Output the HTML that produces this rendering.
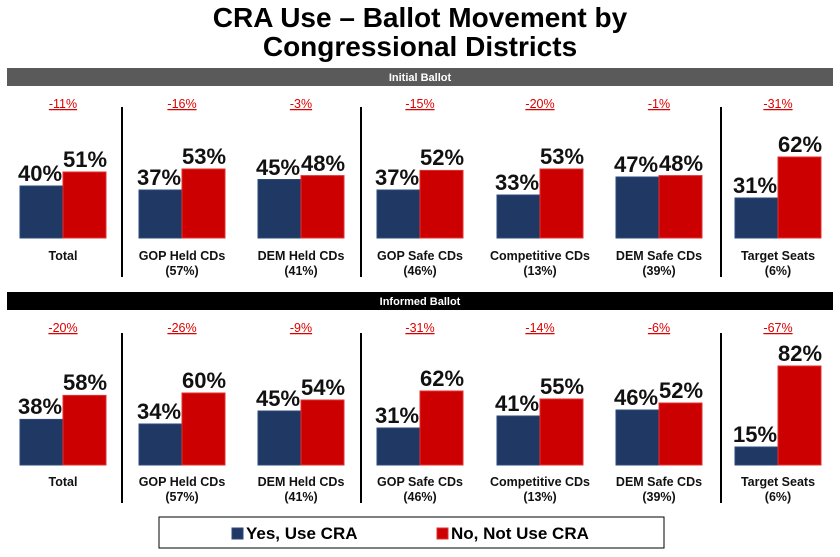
<!DOCTYPE html>
<html><head><meta charset="utf-8"><style>
html,body{margin:0;padding:0;background:#fff;}
svg{display:block;font-family:"Liberation Sans",Arial,sans-serif;}
.t{font-size:28px;font-weight:bold;text-anchor:middle;fill:#000}
.v{font-size:22px;font-weight:bold;text-anchor:middle;fill:#111}
.c{font-size:12.5px;font-weight:bold;text-anchor:middle;fill:#111}
.d{font-size:12.5px;text-anchor:middle;fill:#d00;text-decoration:underline}
.h{font-size:11px;font-weight:bold;text-anchor:middle;fill:#fff}
.b{fill:#1f3864;stroke:#2a4a7a;stroke-width:1}
.r{fill:#cc0000;stroke:#e03030;stroke-width:1}
</style></head><body>
<svg width="840" height="557" viewBox="0 0 840 557">
<text class="t" x="420" y="27">CRA Use – Ballot Movement by</text>
<text class="t" x="420" y="56">Congressional Districts</text>

<rect x="7" y="68" width="826" height="18" fill="#5a5a5a"/>
<text class="h" x="420" y="81">Initial Ballot</text>
<rect x="7" y="292" width="826" height="18" fill="#000"/>
<text class="h" x="420" y="305">Informed Ballot</text>

<g stroke="#000" stroke-width="2">
<line x1="122" y1="107" x2="122" y2="277"/><line x1="361" y1="107" x2="361" y2="277"/><line x1="721" y1="107" x2="721" y2="277"/>
<line x1="122" y1="333" x2="122" y2="503"/><line x1="361" y1="333" x2="361" y2="503"/><line x1="721" y1="333" x2="721" y2="503"/>
</g>

<text class="d" x="63" y="108">-11%</text>
<text class="d" x="182" y="108">-16%</text>
<text class="d" x="301" y="108">-3%</text>
<text class="d" x="420" y="108">-15%</text>
<text class="d" x="540" y="108">-20%</text>
<text class="d" x="659" y="108">-1%</text>
<text class="d" x="778" y="108">-31%</text>

<rect class="b" x="20" y="186" width="43" height="52"/><rect class="r" x="63" y="172" width="43" height="66"/>
<rect class="b" x="139" y="190" width="43" height="48"/><rect class="r" x="182" y="169" width="43" height="69"/>
<rect class="b" x="258" y="179.5" width="43" height="58.5"/><rect class="r" x="301" y="175.6" width="43" height="62.4"/>
<rect class="b" x="377" y="190" width="43" height="48"/><rect class="r" x="420" y="170.4" width="43" height="67.6"/>
<rect class="b" x="497" y="195" width="43" height="43"/><rect class="r" x="540" y="169" width="43" height="69"/>
<rect class="b" x="616" y="177" width="43" height="61"/><rect class="r" x="659" y="175.6" width="43" height="62.4"/>
<rect class="b" x="735" y="198" width="43" height="40"/><rect class="r" x="778" y="157" width="43" height="81"/>

<text class="v" x="40" y="181">40%</text><text class="v" x="85" y="167">51%</text>
<text class="v" x="159" y="185">37%</text><text class="v" x="204" y="164">53%</text>
<text class="v" x="278" y="175">45%</text><text class="v" x="323" y="171">48%</text>
<text class="v" x="397" y="185">37%</text><text class="v" x="442" y="165">52%</text>
<text class="v" x="517" y="190">33%</text><text class="v" x="562" y="164">53%</text>
<text class="v" x="636" y="172">47%</text><text class="v" x="681" y="171">48%</text>
<text class="v" x="755" y="193">31%</text><text class="v" x="800" y="152">62%</text>

<text class="c" x="63" y="260">Total</text>
<text class="c" x="182" y="260">GOP Held CDs</text><text class="c" x="182" y="275">(57%)</text>
<text class="c" x="301" y="260">DEM Held CDs</text><text class="c" x="301" y="275">(41%)</text>
<text class="c" x="420" y="260">GOP Safe CDs</text><text class="c" x="420" y="275">(46%)</text>
<text class="c" x="540" y="260">Competitive CDs</text><text class="c" x="540" y="275">(13%)</text>
<text class="c" x="659" y="260">DEM Safe CDs</text><text class="c" x="659" y="275">(39%)</text>
<text class="c" x="778" y="260">Target Seats</text><text class="c" x="778" y="275">(6%)</text>

<text class="d" x="63" y="332">-20%</text>
<text class="d" x="182" y="332">-26%</text>
<text class="d" x="301" y="332">-9%</text>
<text class="d" x="420" y="332">-31%</text>
<text class="d" x="540" y="332">-14%</text>
<text class="d" x="659" y="332">-6%</text>
<text class="d" x="778" y="332">-67%</text>

<rect class="b" x="20" y="419.4" width="43" height="45.6"/><rect class="r" x="63" y="395.4" width="43" height="69.6"/>
<rect class="b" x="139" y="424" width="43" height="41"/><rect class="r" x="182" y="393" width="43" height="72"/>
<rect class="b" x="258" y="411" width="43" height="54"/><rect class="r" x="301" y="400" width="43" height="65"/>
<rect class="b" x="377" y="428" width="43" height="37"/><rect class="r" x="420" y="391" width="43" height="74"/>
<rect class="b" x="497" y="416" width="43" height="49"/><rect class="r" x="540" y="399" width="43" height="66"/>
<rect class="b" x="616" y="410" width="43" height="55"/><rect class="r" x="659" y="403" width="43" height="62"/>
<rect class="b" x="735" y="447" width="43" height="18"/><rect class="r" x="778" y="366" width="43" height="99"/>

<text class="v" x="40" y="414">38%</text><text class="v" x="85" y="390">58%</text>
<text class="v" x="159" y="419">34%</text><text class="v" x="204" y="388">60%</text>
<text class="v" x="278" y="406">45%</text><text class="v" x="323" y="395">54%</text>
<text class="v" x="397" y="423">31%</text><text class="v" x="442" y="386">62%</text>
<text class="v" x="517" y="411">41%</text><text class="v" x="562" y="394">55%</text>
<text class="v" x="636" y="405">46%</text><text class="v" x="681" y="398">52%</text>
<text class="v" x="755" y="442">15%</text><text class="v" x="800" y="361">82%</text>

<text class="c" x="63" y="486">Total</text>
<text class="c" x="182" y="486">GOP Held CDs</text><text class="c" x="182" y="501">(57%)</text>
<text class="c" x="301" y="486">DEM Held CDs</text><text class="c" x="301" y="501">(41%)</text>
<text class="c" x="420" y="486">GOP Safe CDs</text><text class="c" x="420" y="501">(46%)</text>
<text class="c" x="540" y="486">Competitive CDs</text><text class="c" x="540" y="501">(13%)</text>
<text class="c" x="659" y="486">DEM Safe CDs</text><text class="c" x="659" y="501">(39%)</text>
<text class="c" x="778" y="486">Target Seats</text><text class="c" x="778" y="501">(6%)</text>

<rect x="159" y="517" width="505" height="31" fill="#fff" stroke="#000" stroke-width="1"/>
<rect x="232" y="528" width="11" height="11" class="b"/>
<text x="246" y="539" font-size="17" font-weight="bold" fill="#000">Yes, Use CRA</text>
<rect x="437" y="528" width="11" height="11" class="r"/>
<text x="451" y="539" font-size="17" font-weight="bold" fill="#000">No, Not Use CRA</text>
</svg>
</body></html>
